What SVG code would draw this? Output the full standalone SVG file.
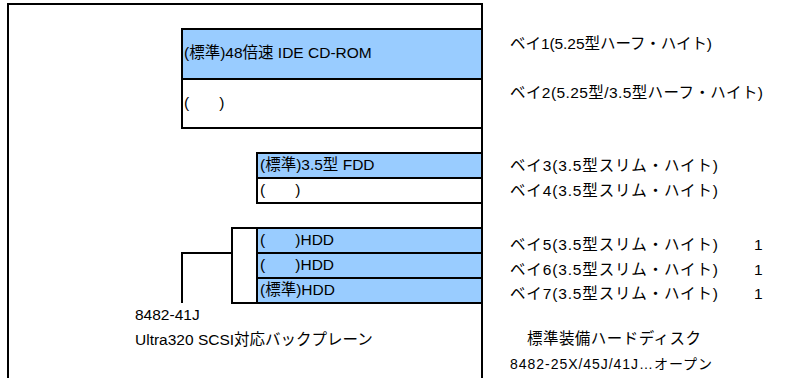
<svg xmlns="http://www.w3.org/2000/svg" width="791" height="378" viewBox="0 0 791 378">
<style>
text{font-family:"Liberation Sans","Noto Sans CJK JP",sans-serif;font-size:15.5px;fill:#000;white-space:pre}
.bay{fill:#99ccff;stroke:#000;stroke-width:2}
.emp{fill:#fff;stroke:#000;stroke-width:2}
.ln{fill:none;stroke:#000;stroke-width:2}
</style>
<g id="frame">
<path class="ln" d="M8,378 V4 H482 V378"/>
</g>
<g id="bay1"><rect class="bay" x="182" y="29" width="300" height="50"/><text x="184" y="58">(標準)48倍速 IDE CD-ROM</text></g>
<g id="bay2"><rect class="emp" x="182" y="79" width="300" height="49"/><text x="184" y="108" xml:space="preserve">(       )</text></g>
<g id="bay3"><rect class="bay" x="257" y="153" width="225" height="25"/><text x="260" y="170">(標準)3.5型 FDD</text></g>
<g id="bay4"><rect class="emp" x="257" y="178" width="225" height="25"/><text x="260" y="195" xml:space="preserve">(       )</text></g>
<g id="bracket"><rect class="emp" x="232" y="228" width="25" height="75"/></g>
<g id="bay5"><rect class="bay" x="257" y="228" width="225" height="25"/><text x="260" y="245" xml:space="preserve">(       )HDD</text></g>
<g id="bay6"><rect class="bay" x="257" y="253" width="225" height="25"/><text x="260" y="270" xml:space="preserve">(       )HDD</text></g>
<g id="bay7"><rect class="bay" x="257" y="278" width="225" height="25"/><text x="260" y="295">(標準)HDD</text></g>
<g id="connectors"><path class="ln" d="M182,303 V253 H232"/></g>
<g id="backplane"><text x="135" y="320">8482-41J</text><text x="135" y="345">Ultra320 SCSI対応バックプレーン</text></g>
<g id="labels">
<text x="510" y="49" textLength="202">ベイ1(5.25型ハーフ・ハイト)</text>
<text x="510" y="98" textLength="253">ベイ2(5.25型/3.5型ハーフ・ハイト)</text>
<text x="510" y="171" textLength="208">ベイ3(3.5型スリム・ハイト)</text>
<text x="510" y="196" textLength="208">ベイ4(3.5型スリム・ハイト)</text>
<text x="510" y="250" textLength="208">ベイ5(3.5型スリム・ハイト)</text><text x="754" y="250">1</text>
<text x="510" y="275" textLength="208">ベイ6(3.5型スリム・ハイト)</text><text x="754" y="275">1</text>
<text x="510" y="299" textLength="208">ベイ7(3.5型スリム・ハイト)</text><text x="754" y="299">1</text>
<text x="527" y="344" textLength="174">標準装備ハードディスク</text>
<text x="510" y="369" style="font-size:14px" textLength="202">8482-25X/45J/41J…オープン</text>
</g>
</svg>
